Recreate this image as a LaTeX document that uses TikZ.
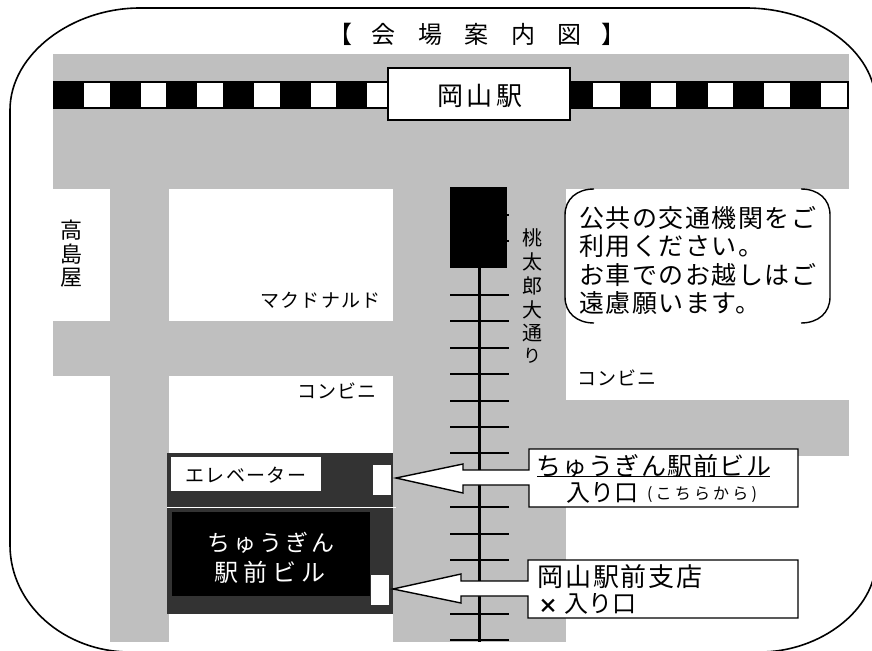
\documentclass[tikz,border=0pt]{standalone}
\usepackage{fontspec}
\newfontfamily\cjk{Noto Sans CJK JP}
\newcommand\jfs[1]{\fontsize{#1}{#1}\selectfont}
\newcommand\jnote{\jfs{25}\addfontfeature{LetterSpace=6}}
\definecolor{road}{HTML}{BFBFBF}
\definecolor{dark}{HTML}{333333}
\tikzset{
  roadfill/.style={fill=road,draw=none},
  lbl/.style={inner sep=0pt,outer sep=0pt,text=black,font=\cjk},
  whitebox/.style={fill=white,draw=none},
  tie/.style={line width=2pt,draw=black},
  callout/.style={fill=white,draw=black,line width=1.4pt,line join=miter},
}
\begin{document}
\begin{tikzpicture}[x=1pt,y=-1pt]
\useasboundingbox (0,0) rectangle (872,650);
\clip (0,0) rectangle (872,650);
\fill[white] (0,0) rectangle (872,650);
% frame
\draw[line width=1.6pt] (10,110) .. controls (10,54) and (72,8) .. (140,8) -- (746,8)
  .. controls (815,8) and (876,50) .. (876,105) -- (876,560)
  .. controls (876,610) and (820,652) .. (760,652) -- (130,652)
  .. controls (65,652) and (10,605) .. (10,545) -- cycle;
% roads
\fill[roadfill] (53,54) rectangle (849,189);
\fill[roadfill] (53,321) rectangle (393,376);
\fill[roadfill] (110,189) rectangle (169,642);
\fill[roadfill] (393,189) rectangle (566,642);
\fill[roadfill] (566,400) rectangle (849,456);
% railway
\fill[black] (53,81) rectangle (849,109);
\foreach \a/\b in {84/110,141/166,197/223,254/280,311/336,367/390,593/620,651/676,708/733,764/790,821/847}
  \fill[white] (\a,83) rectangle (\b,107);
\node[draw=black,fill=white,line width=1.4pt,minimum width=182pt,minimum height=52pt,inner sep=0pt] (station) at (479,94) {};
\node[lbl] (stationtext) at (480,96) {\jfs{26}\addfontfeature{LetterSpace=14}岡山駅};
% title
\node[lbl] (title) at (477,34) {\jfs{24}【\hspace{20pt}会\hspace{22.5pt}場\hspace{22.5pt}案\hspace{22.5pt}内\hspace{22.5pt}図\hspace{20pt}】};
% track
\fill[black] (450,187) rectangle (507,268);
\draw[line width=3pt] (479,268) -- (479,642);
\foreach \y in {295,321,348,374,401,427,453,507,534,560,614,640}
  \draw[tie] (450,\y) -- (509,\y);
\foreach \y in {215,241}
  \draw[line width=1.2pt] (505,\y) -- (509,\y);
% building
\fill[dark] (167,453) rectangle (393,614);
\draw[white,line width=1.5pt] (167,507.5) -- (396,507.5);
\fill[whitebox] (171,457) rectangle (321,491);
\fill[whitebox] (373,465) rectangle (391,495);
\fill[black] (172,512) rectangle (370,596);
\fill[whitebox] (371,575) rectangle (389,605);
% callouts
\draw[callout] (529,449) -- (798,449) -- (798,507) -- (529,507) -- (529,485) -- (463,485) -- (463,493)
  -- (396,478) -- (463,464) -- (463,470) -- (529,470) -- cycle;
\draw[callout] (528,560) -- (798,560) -- (798,618) -- (528,618) -- (528,596) -- (461,596) -- (461,603)
  -- (393,589) -- (461,574) -- (461,581) -- (528,581) -- cycle;
% balloon
\draw[line width=1.4pt] (594,189) .. controls (577,189) and (565,199) .. (565,215) -- (565,297)
  .. controls (565,313) and (577,323) .. (594,323);
\draw[line width=1.4pt] (801,189) .. controls (818,189) and (830,199) .. (830,215) -- (830,297)
  .. controls (830,313) and (818,323) .. (801,323);
\node[lbl,anchor=west] (note1) at (579,218) {\jnote 公共の交通機関をご};
\node[lbl,anchor=west] (note2) at (579,246) {\jnote 利用ください。};
\node[lbl,anchor=west] (note3) at (579,275) {\jnote お車でのお越しはご};
\node[lbl,anchor=west] (note4) at (579,303) {\jnote 遠慮願います。};
% labels
\node[lbl] (taka1) at (71,230) {\jfs{22}高};
\node[lbl] (taka2) at (71,254) {\jfs{22}島};
\node[lbl] (taka3) at (71,278) {\jfs{22}屋};
\node[lbl] (mo1) at (532,238) {\jfs{20}桃};
\node[lbl] (mo2) at (532,262) {\jfs{20}太};
\node[lbl] (mo3) at (532,286) {\jfs{20}郎};
\node[lbl] (mo4) at (532,310) {\jfs{20}大};
\node[lbl] (mo5) at (532,333) {\jfs{20}通};
\node[lbl] (mo6) at (532,356) {\jfs{18}り};
\node[lbl] (mac) at (320.5,300) {\jfs{19}\addfontfeature{LetterSpace=7}マクドナルド};
\node[lbl] (conv1) at (337,391) {\jfs{19}\addfontfeature{LetterSpace=7}コンビニ};
\node[lbl] (conv2) at (617,378) {\jfs{19}\addfontfeature{LetterSpace=7}コンビニ};
\node[lbl] (elev) at (246,475) {\jfs{19}\addfontfeature{LetterSpace=7}エレベーター};
\node[lbl,text=white] (ch1) at (271,543) {\jfs{23}\addfontfeature{LetterSpace=14}ちゅうぎん};
\node[lbl,text=white] (ch2) at (270,572) {\jfs{24}\addfontfeature{LetterSpace=22}駅前ビル};
\node[lbl] (b1a) at (653.5,466) {\jfs{25}\addfontfeature{LetterSpace=5}ちゅうぎん駅前ビル};
\draw[line width=1.4pt] (537,476.5) -- (770,476.5);
\node[lbl] (b1b) at (602,493) {\jfs{24}入り口};
\node[lbl] (b1c) at (702,495) {\jfs{16}\addfontfeature{LetterSpace=20}(こちらから)};
\node[lbl] (b2a) at (620,577) {\jfs{26}\addfontfeature{LetterSpace=7}岡山駅前支店};
\node[lbl,font=\cjk\bfseries] (b2x) at (548,606) {\jfs{20}×};
\node[lbl] (b2b) at (600,604) {\jfs{24}入り口};
\end{tikzpicture}
\end{document}
